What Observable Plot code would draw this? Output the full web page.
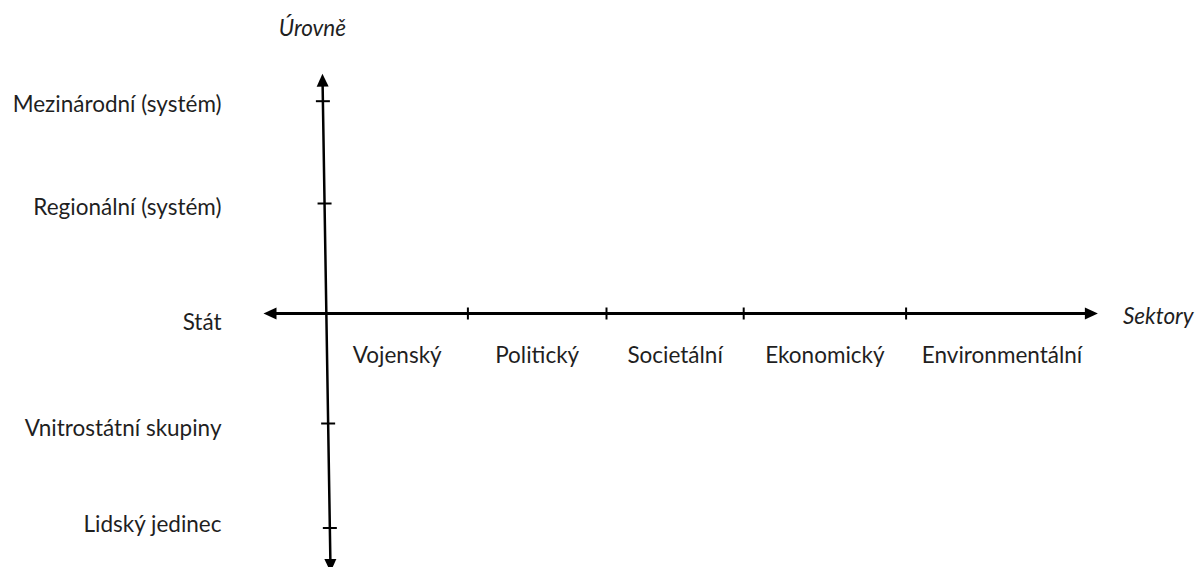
<!DOCTYPE html>
<html>
<head>
<meta charset="utf-8">
<script src="https://cdn.jsdelivr.net/npm/d3@7"></script>
<script src="https://cdn.jsdelivr.net/npm/@observablehq/plot@0.6"></script>
<style>
  html, body { margin: 0; padding: 0; background: #fff; }
  #chart svg { display: block; }
</style>
</head>
<body>
<div id="chart"></div>
<script>
// ---- data ----
const sectors = ["Vojenský", "Politický", "Societální", "Ekonomický", "Environmentální"];
const sectorBounds = [0, 1.01, 2.0, 2.98, 4.14, 5.51];   // origin, tick marks, arrow end
const levels = ["Mezinárodní (systém)", "Regionální (systém)", "Stát", "Vnitrostátní skupiny", "Lidský jedinec"];
const levelValues = [1.93, 1.0, 0, -1.0, -1.95];
const xAxisEnds = [-0.45, 5.51];                          // horizontal axis (sectors) extent
const yAxisEnds = [2.18, -2.35];                          // vertical axis (levels) extent, top to bottom
const yAxisLean = [-0.029, 0.029];                        // x of vertical axis at its top and bottom end
const axisTitles = {x: "Sektory", y: "Úrovně"};

// ---- scales (shared with Plot so arrowheads can be oriented) ----
const xDomain = [0, 4], xRange = [326, 886];
const yDomain = [-2, 2], yRange = [533, 93];
const xs = d3.scaleLinear(xDomain, xRange);
const ys = d3.scaleLinear(yDomain, yRange);

// x position on the slightly leaning vertical axis for a given level value
const axisXAt = (v) => yAxisLean[0] + (v - yAxisEnds[0]) / (yAxisEnds[1] - yAxisEnds[0]) * (yAxisLean[1] - yAxisLean[0]);

// filled arrowhead symbol: tip at origin, pointing along (ux, uy) in pixels
const HEAD_LEN = 13, HEAD_W = 12;
function arrowHead(ux, uy) {
  const n = Math.hypot(ux, uy); ux /= n; uy /= n;
  const px = -uy, py = ux;
  return {
    draw(ctx) {
      const bx = -ux * HEAD_LEN, by = -uy * HEAD_LEN;
      ctx.moveTo(0, 0);
      ctx.lineTo(bx + px * HEAD_W / 2, by + py * HEAD_W / 2);
      ctx.lineTo(bx - px * HEAD_W / 2, by - py * HEAD_W / 2);
      ctx.closePath();
    }
  };
}
const tickSymbol = (horizontal, half) => ({
  draw(ctx) {
    if (horizontal) { ctx.moveTo(-half, 0); ctx.lineTo(half, 0); }
    else { ctx.moveTo(0, -half); ctx.lineTo(0, half); }
  }
});

// axis geometry
const hAxis = [{x: xAxisEnds[0], y: 0}, {x: xAxisEnds[1], y: 0}];
const vAxis = [{x: yAxisLean[0], y: yAxisEnds[0]}, {x: yAxisLean[1], y: yAxisEnds[1]}];

// shorten lines so they finish inside the arrowheads
function shorten(p, q, px) {
  const ax = xs(p.x), ay = ys(p.y), bx = xs(q.x), by = ys(q.y);
  const d = Math.hypot(bx - ax, by - ay);
  const t = px / d;
  return {x: xs.invert(bx + (ax - bx) * t), y: ys.invert(by + (ay - by) * t)};
}
const hLine = [shorten(hAxis[1], hAxis[0], HEAD_LEN - 3), shorten(hAxis[0], hAxis[1], HEAD_LEN - 3)];
const vLine = [shorten(vAxis[1], vAxis[0], HEAD_LEN - 3), shorten(vAxis[0], vAxis[1], HEAD_LEN - 3)];

const vdx = xs(vAxis[0].x) - xs(vAxis[1].x), vdy = ys(vAxis[0].y) - ys(vAxis[1].y);
const heads = [
  {x: hAxis[0].x, y: 0, s: arrowHead(-1, 0)},
  {x: hAxis[1].x, y: 0, s: arrowHead(1, 0)},
  {x: vAxis[0].x, y: vAxis[0].y, s: arrowHead(vdx, vdy)},
  {x: vAxis[1].x, y: vAxis[1].y, s: arrowHead(-vdx, -vdy)}
];

const sectorData = sectors.map((name, i) => ({name, mid: (sectorBounds[i] + sectorBounds[i + 1]) / 2}));
const sectorTicks = sectorBounds.slice(1, -1);
const levelData = levels.map((name, i) => ({name, v: levelValues[i]}));
const levelTicks = levelData.filter(d => d.v !== 0);

const FONT = "Lato, 'Open Sans', sans-serif";
const TEXT = "#1f1f1f";
const FS = 22.5;

const levelLabel = (data, dy) => Plot.text(data, {
  frameAnchor: "left", y: "v", text: "name", textAnchor: "end", dx: 221, dy, fill: TEXT, fontSize: FS
});

const chart = Plot.plot({
  width: 1195,
  height: 567,
  margin: 0,
  x: {domain: xDomain, range: xRange, axis: null},
  y: {domain: yDomain, range: yRange, axis: null},
  style: {fontFamily: FONT, fontSize: FS + "px", background: "#fff", color: TEXT},
  marks: [
    // axes
    Plot.line(hLine, {x: "x", y: "y", stroke: "#000", strokeWidth: 3}),
    Plot.line(vLine, {x: "x", y: "y", stroke: "#000", strokeWidth: 2.5}),
    // arrowheads (one mark each so each keeps its own orientation)
    ...heads.map(h => Plot.dot([h], {x: "x", y: "y", symbol: h.s, fill: "#000", stroke: "none"})),
    // tick marks
    Plot.dot(sectorTicks, {x: d => d, y: () => 0, symbol: tickSymbol(false, 6), fill: "none", stroke: "#000", strokeWidth: 2}),
    Plot.dot(levelTicks, {x: d => axisXAt(d.v), y: "v", symbol: tickSymbol(true, 7), fill: "none", stroke: "#000", strokeWidth: 2}),
    // sector labels
    Plot.text(sectorData, {x: "mid", y: () => 0, text: "name", dy: 42, fill: TEXT, fontSize: FS}),
    // level labels (right aligned to the left of the axis)
    levelLabel(levelData.filter(d => d.v > 0), 4),
    levelLabel(levelData.filter(d => d.v === 0), 9),
    levelLabel(levelData.filter(d => d.v < 0 && d.v > -1.5), 5),
    levelLabel(levelData.filter(d => d.v <= -1.5), -3),
    // axis titles
    Plot.text([axisTitles.x], {x: () => xAxisEnds[1], y: () => 0, text: d => d, textAnchor: "start", dx: 25, dy: 3, fontStyle: "italic", fill: TEXT, fontSize: FS}),
    Plot.text([axisTitles.y], {x: () => yAxisLean[0], y: () => yAxisEnds[0], text: d => d, dx: -10, dy: -45, fontStyle: "italic", fill: TEXT, fontSize: FS})
  ]
});
document.getElementById("chart").appendChild(chart);
</script>
</body>
</html>
